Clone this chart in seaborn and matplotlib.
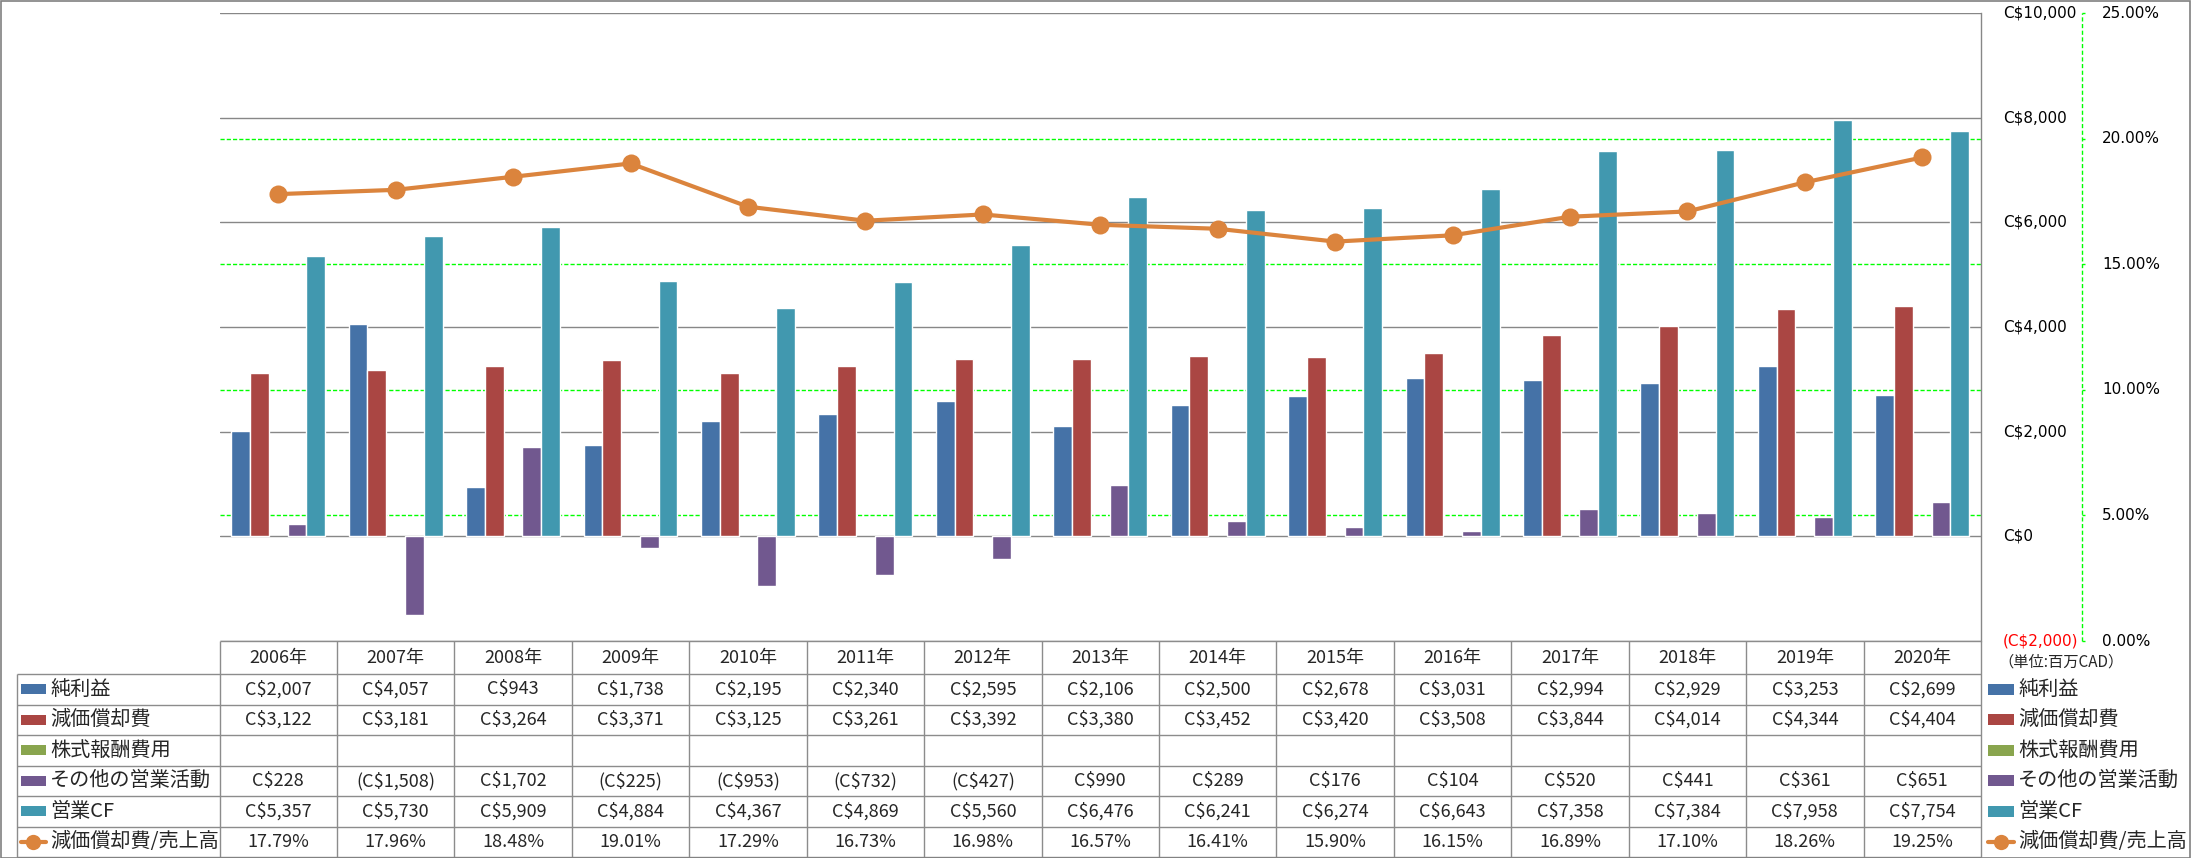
import numpy as np
import pandas as pd
import matplotlib
matplotlib.use("Agg")
import matplotlib.pyplot as plt
import matplotlib.transforms as mtransforms
from matplotlib.patches import Rectangle
import seaborn as sns

# Data (単位: 百万CAD)
years = [f"{y}年" for y in range(2006, 2021)]
net_income = [2007, 4057, 943, 1738, 2195, 2340, 2595, 2106, 2500, 2678, 3031, 2994, 2929, 3253, 2699]
depreciation = [3122, 3181, 3264, 3371, 3125, 3261, 3392, 3380, 3452, 3420, 3508, 3844, 4014, 4344, 4404]
stock_comp = [np.nan] * 15
other_ops = [228, -1508, 1702, -225, -953, -732, -427, 990, 289, 176, 104, 520, 441, 361, 651]
operating_cf = [5357, 5730, 5909, 4884, 4367, 4869, 5560, 6476, 6241, 6274, 6643, 7358, 7384, 7958, 7754]
dep_ratio = [17.79, 17.96, 18.48, 19.01, 17.29, 16.73, 16.98, 16.57, 16.41, 15.90, 16.15, 16.89, 17.10, 18.26, 19.25]

series_names = ["純利益", "減価償却費", "株式報酬費用", "その他の営業活動", "営業CF"]
ratio_name = "減価償却費/売上高"
unit_text = "（単位:百万CAD）"
money_ticks = list(range(-2000, 10001, 2000))
pct_ticks = [0, 5, 10, 15, 20, 25]

colors = ["#4572A7", "#AA4643", "#89A54E", "#71588F", "#4198AF"]
line_color = "#DB843D"
grid_gray = "#878787"
table_gray = "#8c8c8c"
green = "#00ff00"


def money(v):
    if v != v:
        return ""
    v = int(v)
    return f"(C${-v:,})" if v < 0 else f"C${v:,}"


sns.set_theme(style="white")
plt.rcParams["font.family"] = ["Noto Sans CJK JP", "DejaVu Sans"]

W, H = 2191, 858
fig = plt.figure(figsize=(W / 100, H / 100), dpi=100)

# plot area in pixels
px_left, px_right, px_top, px_bottom = 219.5, 1981, 13, 641
ax = fig.add_axes([px_left / W, 1 - px_bottom / H,
                   (px_right - px_left) / W, (px_bottom - px_top) / H])

df = pd.DataFrame({"年": years})
for name, vals in zip(series_names, [net_income, depreciation, stock_comp, other_ops, operating_cf]):
    df[name] = vals
long = df.melt(id_vars="年", var_name="項目", value_name="金額")

sns.barplot(data=long, x="年", y="金額", hue="項目", hue_order=series_names,
            palette=colors, saturation=1, errorbar=None, width=0.8,
            legend=False, ax=ax)

# secondary axis (ratio)
ax2 = ax.twinx()
sns.lineplot(x=np.arange(len(years)), y=dep_ratio, ax=ax2, color=line_color,
             lw=3, marker="o", markersize=13, markeredgewidth=0)

ax.set_ylim(-2000, 10000)
ax.set_xlim(-0.5, 14.5)
ax.set_yticks(money_ticks)
ax.tick_params(axis="y", length=0, labelleft=False, labelright=False)
ax.tick_params(axis="x", length=0, labelbottom=False)
ax.set_xlabel("")
ax.set_ylabel("")
ax.grid(axis="y", color=grid_gray, lw=1.0)
ax.set_axisbelow(True)
for s in ["left", "top", "bottom"]:
    ax.spines[s].set_visible(False)
ax.spines["right"].set_color(grid_gray)
ax.spines["right"].set_linewidth(1.0)

ax2.set_ylim(0, 25)
ax2.set_xlim(-0.5, 14.5)
ax2.set_yticks(pct_ticks)
ax2.set_ylabel("")
ax2.tick_params(axis="y", direction="out", length=2.5, width=1, color=green,
                labelright=False, labelleft=False)
for s in ["left", "top", "bottom", "right"]:
    ax2.spines[s].set_visible(False)
ax2.spines["right"].set_position(("outward", 72.7))

# dashed green line of the ratio axis
axis_tr = mtransforms.offset_copy(ax2.transAxes, fig=fig, x=101, y=0, units="dots")
ax2.plot([1, 1], [0, 1], transform=axis_tr, color=green, lw=1.0,
         ls=(0, (3, 1.8)), clip_on=False)

# axis labels, left-aligned like the original
money_tr = mtransforms.offset_copy(
    mtransforms.blended_transform_factory(ax.transAxes, ax.transData), fig=fig, x=22, y=0, units="dots")
for v in money_ticks:
    ax.text(1, v, money(v), transform=money_tr, ha="left", va="center",
            fontsize=11, fontfamily="DejaVu Sans", color="red" if v < 0 else "black",
            clip_on=False)
pct_tr = mtransforms.offset_copy(
    mtransforms.blended_transform_factory(ax2.transAxes, ax2.transData), fig=fig, x=121, y=0, units="dots")
for p in pct_ticks:
    ax2.text(1, p, f"{p:.2f}%", transform=pct_tr, ha="left", va="center",
             fontsize=11, fontfamily="DejaVu Sans", color="black", clip_on=False)

# green dashed grid of the ratio axis, behind the bars
trans = mtransforms.blended_transform_factory(ax.transAxes, ax2.transData)
for p in pct_ticks[1:-1]:
    ax.plot([0, 1], [p, p], transform=trans, color=green, lw=1.0,
            ls=(0, (3, 1.5)), zorder=0.6)
ax.set_ylim(-2000, 10000)
ax.set_xlim(-0.5, 14.5)

# data table under the chart
tab_left, tab_bottom = 17, 857
cat_px = (px_right - px_left) / len(years)
x0 = -0.5 - (px_left - tab_left) / cat_px
tab = fig.add_axes([tab_left / W, 1 - tab_bottom / H,
                    (px_right - tab_left) / W, (tab_bottom - px_bottom) / H])
tab_h = tab_bottom - px_bottom
tab.set_xlim(x0, 14.5)
tab.set_ylim(tab_h, 0)
tab.axis("off")

head_h = 33
row_h = (tab_h - head_h) / 6
row_edges = [head_h + row_h * k for k in range(7)]
tab.hlines(0, -0.5, 14.5, color=table_gray, lw=1, clip_on=False)
tab.hlines(row_edges, x0, 14.5, color=table_gray, lw=1, clip_on=False)
tab.vlines(np.arange(-0.5, len(years) + 0.5), 0, tab_h, color=table_gray, lw=1, clip_on=False)
tab.vlines(x0, head_h, tab_h, color=table_gray, lw=1, clip_on=False)

for i, y in enumerate(years):
    tab.text(i, head_h / 2, y, ha="center", va="center", fontsize=13)

rows = [[money(v) for v in net_income],
        [money(v) for v in depreciation],
        [money(v) for v in stock_comp],
        [money(v) for v in other_ops],
        [money(v) for v in operating_cf],
        [f"{v:.2f}%" for v in dep_ratio]]
labels = series_names + [ratio_name]
key_colors = colors + [line_color]

for r, (lab, vals) in enumerate(zip(labels, rows)):
    yc = head_h + row_h * (r + 0.5)
    for i, t in enumerate(vals):
        tab.text(i, yc, t, ha="center", va="center", fontsize=13)
    kx = x0 + 4 / cat_px
    kw = 25 / cat_px
    if r < 5:
        tab.add_patch(Rectangle((kx, yc - 5), kw, 10, color=key_colors[r], lw=0))
    else:
        tab.plot([kx, kx + kw], [yc, yc], color=line_color, lw=3)
        tab.plot([kx + kw / 2], [yc], "o", color=line_color, markersize=11, markeredgewidth=0)
    tab.text(x0 + 33 / cat_px, yc, lab, ha="left", va="center", fontsize=14.5)

# legend on the right side
leg = fig.add_axes([px_right / W, 1 - tab_bottom / H, (W - px_right) / W, tab_h / H])
leg.set_xlim(0, W - px_right)
leg.set_ylim(tab_h, 0)
leg.axis("off")
leg.text(17, 21, unit_text, ha="left", va="center", fontsize=11)
for r, lab in enumerate(labels):
    yc = head_h + row_h * (r + 0.5)
    if r < 5:
        leg.add_patch(Rectangle((7, yc - 5.5), 26, 11, color=key_colors[r], lw=0))
    else:
        leg.plot([7, 33], [yc, yc], color=line_color, lw=3)
        leg.plot([20], [yc], "o", color=line_color, markersize=11, markeredgewidth=0)
    leg.text(37, yc, lab, ha="left", va="center", fontsize=14.5)

# outer chart border
fig.patches.append(Rectangle((0.5 / W, 0.5 / H), (W - 1.5) / W, (H - 1.5) / H,
                             transform=fig.transFigure, fill=False,
                             edgecolor="#808080", lw=1.2))

fig.savefig("out.png", dpi=100)
